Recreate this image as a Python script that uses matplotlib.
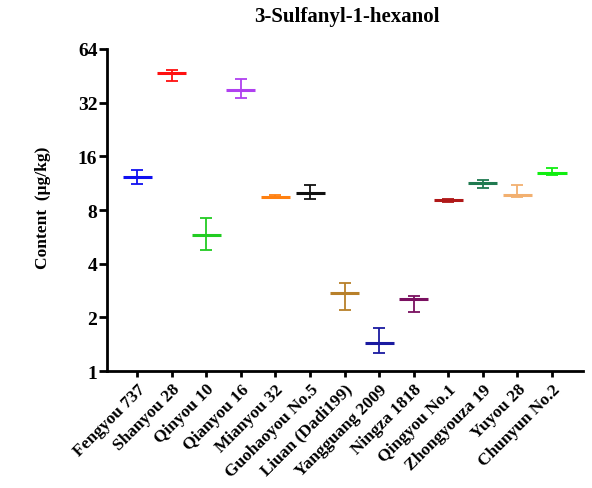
import matplotlib
matplotlib.use("Agg")
import matplotlib.pyplot as plt
from matplotlib.ticker import FixedLocator, FixedFormatter, NullLocator
import numpy as np

plt.rcParams['font.family'] = ['Liberation Serif', 'DejaVu Serif']
plt.rcParams['font.weight'] = 'bold'

varieties = ['Fengyou 737', 'Shanyou 28', 'Qinyou 10', 'Qianyou 16', 'Mianyou 32',
             'Guohaoyou No.5', 'Liuan (Dadi199)', 'Yangguang 2009', 'Ningza 1818',
             'Qingyou No.1', 'Zhongyouza 19', 'Yuyou 28', 'Chunyun No.2']
mean = [12.2, 46.6, 5.8, 37.6, 9.5, 9.9, 2.73, 1.43, 2.53, 9.05, 11.3, 9.7, 12.9]
upper = [13.4, 48.9, 7.2, 43.3, 9.65, 11.1, 3.10, 1.75, 2.64, 9.2, 11.8, 11.1, 13.8]
lower = [11.2, 42.1, 4.8, 33.8, 9.35, 9.2, 2.20, 1.27, 2.15, 8.9, 10.6, 9.5, 12.6]
colors = ['#1010f0', '#ff1010', '#22cc22', '#b040f0', '#ff8010', '#101010', '#b8802a',
          '#1a1aa0', '#7a1060', '#b01818', '#207a50', '#f2b070', '#10ee10']
yticks = [1, 2, 4, 8, 16, 32, 64]

fig = plt.figure(figsize=(5.92, 4.89), dpi=100)
ax = fig.add_axes([0.181, 0.239, 0.804, 0.659])

x = np.arange(len(varieties))
for i in x:
    ax.errorbar(i, mean[i], yerr=[[mean[i] - lower[i]], [upper[i] - mean[i]]],
                fmt='none', ecolor=colors[i], elinewidth=1.3, capsize=4.5, capthick=1.3)
    ax.hlines(mean[i], i - 0.42, i + 0.42, color=colors[i], linewidth=2.2)

ax.set_yscale('log', base=2)
ax.set_ylim(1, 64)
ax.yaxis.set_major_locator(FixedLocator(yticks))
ax.yaxis.set_major_formatter(FixedFormatter([str(t) for t in yticks]))
ax.yaxis.set_minor_locator(NullLocator())
ax.set_xlim(-0.87, 12.9)
ax.set_xticks(x)
ax.set_xticklabels(varieties, rotation=45, ha='right', rotation_mode='anchor',
                   fontsize=12.5, fontweight='bold')

for s in ['top', 'right']:
    ax.spines[s].set_visible(False)
for s in ['left', 'bottom']:
    ax.spines[s].set_linewidth(2)
ax.tick_params(axis='y', length=6, width=2, labelsize=14, pad=1)
ax.tick_params(axis='x', length=4, width=2, pad=3)

ax.set_ylabel('Content  (μg/kg)', fontsize=12.5, fontweight='bold', labelpad=18)
ax.yaxis.set_label_coords(-0.118, 0.51)
fig.text(0.586, 0.965, '3-Sulfanyl-1-hexanol', ha='center', va='center',
         fontsize=15, fontweight='bold')

fig.savefig('out.png', dpi=100)
